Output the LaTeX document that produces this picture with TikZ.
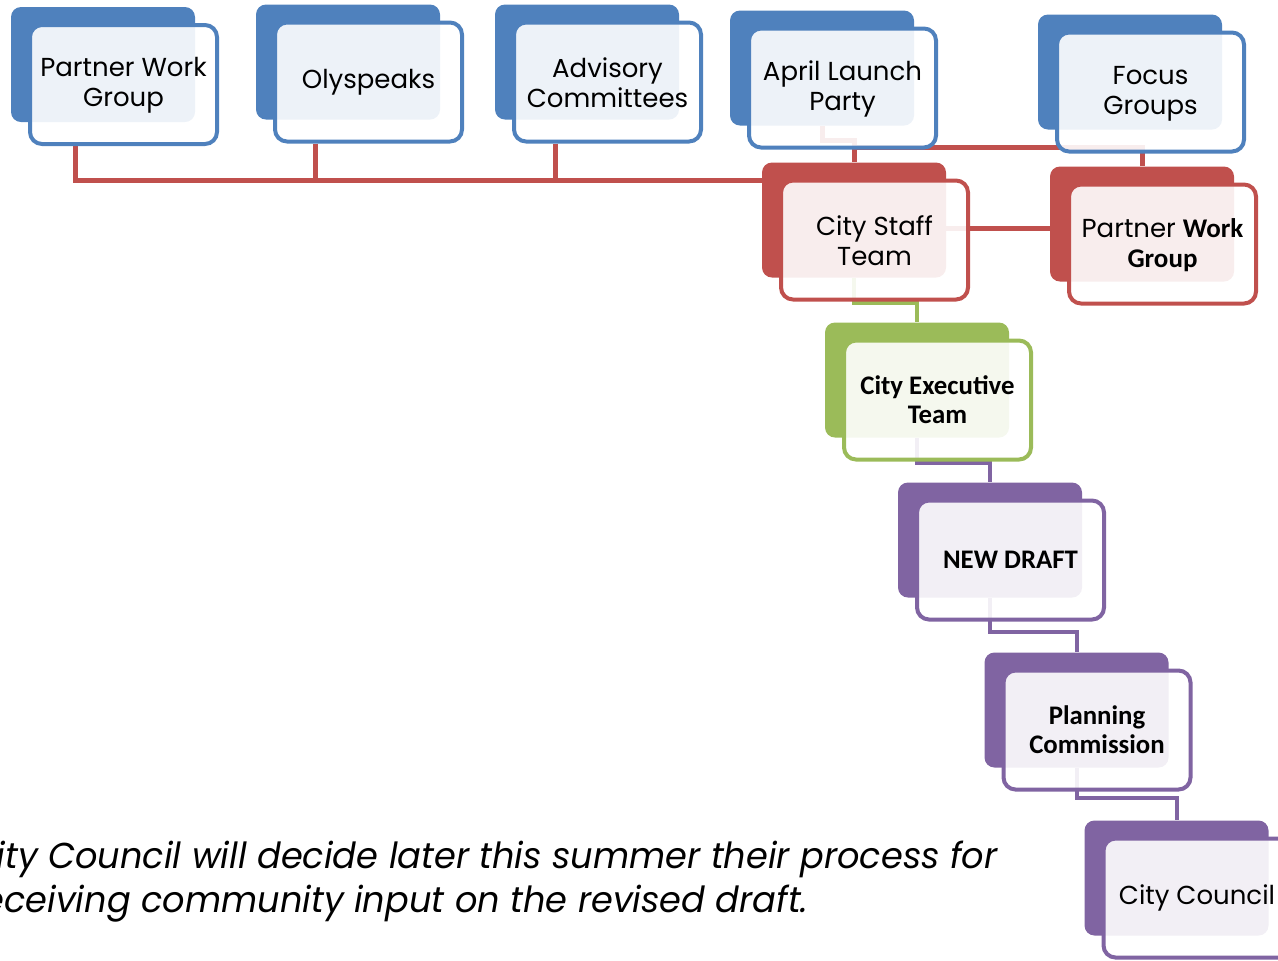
\documentclass[tikz,border=0pt]{standalone}
\usepackage{fontspec}
\setmainfont{Poppins}
\newfontfamily\calfont{Carlito}
\usepackage{graphicx}
\usepackage{tikz}
\usetikzlibrary{positioning}

\definecolor{ofblue}{HTML}{4F81BD}
\definecolor{ofred}{HTML}{C0504D}
\definecolor{ofgreen}{HTML}{9BBB59}
\definecolor{ofpurple}{HTML}{8064A2}

\pgfdeclarelayer{bg}
\pgfsetlayers{bg,main}

\tikzset{
  backbox/.style={fill=#1, rounded corners=5pt, inner sep=0pt,
    minimum width=92pt, minimum height=57.5pt},
  frontbox/.style={draw=#1, line width=2pt, fill=white, fill opacity=0.9,
    text opacity=1, rounded corners=6pt, inner sep=0pt, align=center,
    minimum width=93.5pt, minimum height=59.5pt,
    font=\fontsize{13}{15}\selectfont},
  boldtext/.style={font=\calfont\bfseries\fontsize{13.4}{14.5}\selectfont},
  link/.style={draw=#1, line width=2pt},
}

\begin{document}
\begin{tikzpicture}[x=0.5pt, y=-0.5pt]
  \useasboundingbox (0,0) rectangle (1278,960);
  \clip (0,0) rectangle (1278,960);

  % input boxes
  \node[backbox=ofblue] (pwg-b) at (103,64.5) {};
  \node[frontbox=ofblue] (pwg) at ([shift={(20.5,20)}]pwg-b) {\strut Partner Work\\Group};
  \node[backbox=ofblue] (oly-b) at (348,62) {};
  \node[frontbox=ofblue] (oly) at ([shift={(20.5,20)}]oly-b) {\strut Olyspeaks};
  \node[backbox=ofblue] (adv-b) at (587,62) {};
  \node[frontbox=ofblue] (adv) at ([shift={(20.5,20)}]adv-b) {\strut Advisory\\Committees};
  \node[backbox=ofblue] (apr-b) at (822,68) {};
  \node[frontbox=ofblue] (apr) at ([shift={(20.5,20)}]apr-b) {\strut April Launch\\Party};
  \node[backbox=ofblue] (foc-b) at (1130,72) {};
  \node[frontbox=ofblue] (foc) at ([shift={(20.5,20)}]foc-b) {\strut Focus\\Groups};

  % staff
  \node[backbox=ofred] (staff-b) at (854,220) {};
  \node[frontbox=ofred] (staff) at ([shift={(20.5,20)}]staff-b) {\strut City Staff\\Team};
  \node[backbox=ofred] (pwgr-b) at (1142,224) {};
  \node[frontbox=ofred] (pwgr) at ([shift={(20.5,20)}]pwgr-b)
    {\strut Partner {\calfont\bfseries\fontsize{13.5}{15}\selectfont Work}\\{\calfont\bfseries\fontsize{13.5}{15}\selectfont Group}};

  % review chain
  \node[backbox=ofgreen] (exec-b) at (917,380) {};
  \node[frontbox=ofgreen, boldtext] (exec) at ([shift={(20.5,20)}]exec-b) {City Executive\\Team};
  \node[backbox=ofpurple] (draft-b) at (990,540) {};
  \node[frontbox=ofpurple, boldtext] (draft) at ([shift={(20.5,20)}]draft-b) {NEW DRAFT};
  \node[backbox=ofpurple] (plan-b) at (1076.5,710) {};
  \node[frontbox=ofpurple, boldtext] (plan) at ([shift={(20.5,20)}]plan-b) {Planning\\Commission};
  \node[backbox=ofpurple] (council-b) at (1176.5,878) {};
  \node[frontbox=ofpurple] (council) at ([shift={(20.5,20)}]council-b) {\strut City Council};

  \begin{pgfonlayer}{bg}
    \draw[link=ofred, line width=2.5pt] (75,0 |- pwg.south) -- (75,180) -- (staff-b.west |- 0,180);
    \draw[link=ofred, line width=2.5pt] (315,0 |- oly.south) -- (315,180);
    \draw[link=ofred, line width=2.5pt] (555,0 |- adv.south) -- (555,180);
    \draw[link=ofred, line width=2.5pt] (apr-b.south) -- (apr-b.south |- 0,140) -| (staff-b.north);
    \draw[link=ofred, line width=2.5pt] (staff-b.north) -- (staff-b.north |- 0,147) -| (pwgr-b.north);
    \draw[link=ofred, line width=2.5pt] (staff-b.center |- 0,228) -- (pwgr-b.center |- 0,228);
    \draw[link=ofgreen] (staff-b.south) -- (staff-b.south |- 0,303) -| (exec-b.north);
    \draw[link=ofpurple] (exec-b.south) -- (exec-b.south |- 0,463) -| (draft-b.north);
    \draw[link=ofpurple] (draft-b.south) -- (draft-b.south |- 0,632) -| (plan-b.north);
    \draw[link=ofpurple] (plan-b.south) -- (plan-b.south |- 0,798) -| (council-b.north);
  \end{pgfonlayer}

  \node[anchor=base west, inner sep=0pt, font=\itshape\fontsize{18}{22}\selectfont] (note) at (-31,868)
    {\resizebox{514pt}{\height}{\begin{tabular}[t]{@{}l@{}}City Council will decide later this summer their process for\\receiving community input on the revised draft.\end{tabular}}};
\end{tikzpicture}
\end{document}
